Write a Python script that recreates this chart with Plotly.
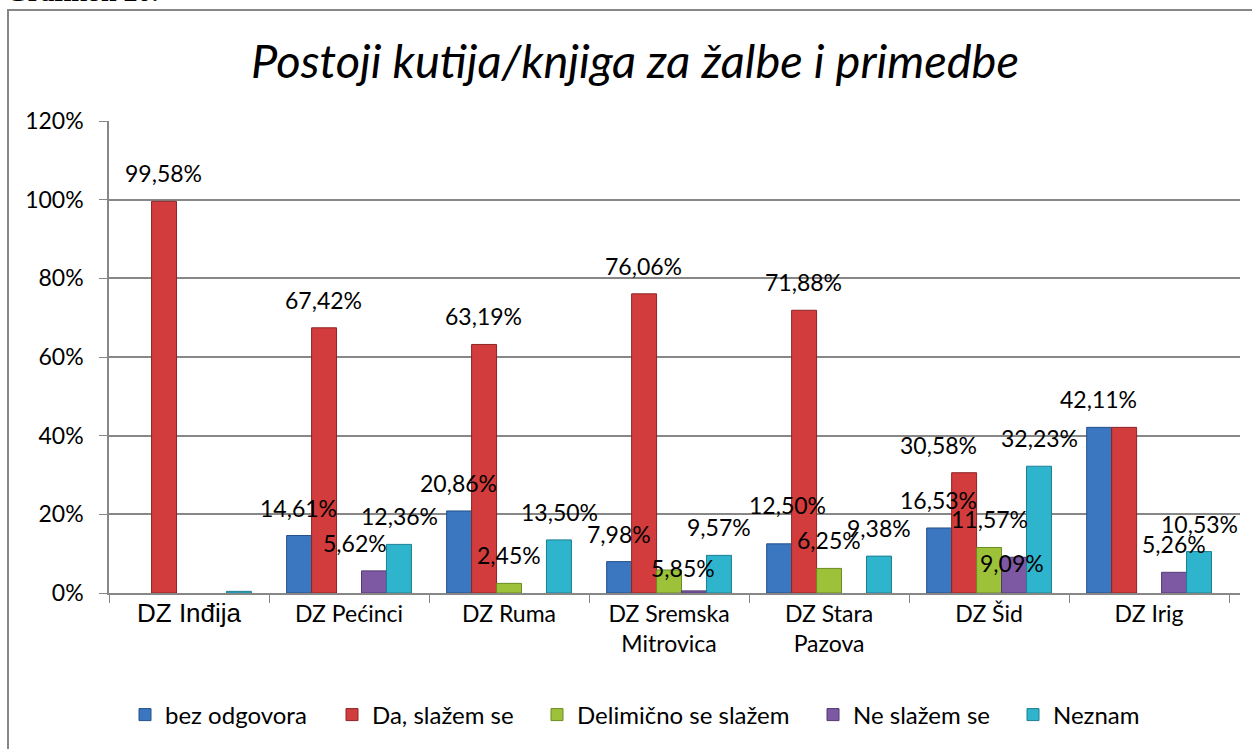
import plotly.graph_objects as go

# ---- data ----
categories = ["DZ Inđija", "DZ Pećinci", "DZ Ruma", "DZ Sremska Mitrovica",
              "DZ Stara Pazova", "DZ Šid", "DZ Irig"]
tick_labels = ["<span style='font-family:Arial; font-size:26px'>DZ Inđija</span>",
               "DZ Pećinci", "DZ Ruma", "DZ Sremska<br>Mitrovica",
               "DZ Stara<br>Pazova", "DZ Šid", "DZ Irig"]
bez_odgovora = [0, 14.61, 20.86, 7.98, 12.50, 16.53, 42.11]
da_slazem = [99.58, 67.42, 63.19, 76.06, 71.88, 30.58, 42.11]
delimicno = [0, 0, 2.45, 5.85, 6.25, 11.57, 0]
ne_slazem = [0, 5.62, 0, 0.54, 0, 9.09, 5.26]
neznam = [0.42, 12.36, 13.50, 9.57, 9.38, 32.23, 10.53]
series_names = ["bez odgovora", "Da, slažem se", "Delimično se slažem",
                "Ne slažem se", "Neznam"]
y_ticks = [0, 20, 40, 60, 80, 100, 120]
y_tick_labels = ["0%", "20%", "40%", "60%", "80%", "100%", "120%"]

series_values = [bez_odgovora, da_slazem, delimicno, ne_slazem, neznam]

# ---- style ----
colors = ["#3b76c0", "#d23c3c", "#9dc23a", "#7d59a3", "#2fb4cd"]
edge = ["#24508a", "#8e2424", "#6a8a22", "#523a72", "#1d7f92"]
FONT = "Lato"
# labels not shown in the original (category idx, series idx)
hidden = {(0, 4), (3, 3), (6, 1)}
# small label nudges (dx px, dy px)
nudges = {(3, 2): (14, -26), (4, 0): (9, 11), (5, 1): (-25, 0),
          (5, 3): (-2, -34), (1, 3): (-19, 0)}
# legend marker centres (px)
legend_px = [146, 353, 558, 834, 1034]

W, H = 1252, 749
ML, MR, MT, MB = 109, 12, 121, 156
BARGAP = 0.22
plot_w = W - ML - MR
plot_h = H - MT - MB
bar_px = plot_w / len(categories) * (1 - BARGAP) / len(series_names)

fig = go.Figure()
legend_ids = ["legend"] + [f"legend{i}" for i in range(2, len(series_names) + 1)]
for s, (name, vals) in enumerate(zip(series_names, series_values)):
    fig.add_trace(go.Bar(
        name=name, x=categories, y=[v if v > 0 else None for v in vals],
        marker=dict(color=colors[s], line=dict(color=edge[s], width=1)),
        hoverinfo="skip", legend=legend_ids[s],
    ))

annotations = []
for s, vals in enumerate(series_values):
    for c, v in enumerate(vals):
        if v <= 0 or (c, s) in hidden:
            continue
        dx, dy = nudges.get((c, s), (0, 0))
        annotations.append(dict(
            x=categories[c], y=v, xref="x", yref="y",
            text=f"{v:.2f}".replace(".", ",") + "%",
            showarrow=False, xanchor="center", yanchor="middle",
            xshift=(s - 2) * bar_px + dx, yshift=28 + dy,
            font=dict(family=FONT, size=23, color="black"),
        ))

# "Grafikon 20." caption cut at top
annotations.append(dict(
    xref="paper", yref="paper", x=(4 - ML) / plot_w,
    y=(H - MB + 9) / plot_h, xanchor="left", yanchor="middle",
    text="<b>Grafikon 20.</b>", showarrow=False,
    font=dict(family="Liberation Serif", size=28, color="black"),
))

fig.add_shape(type="rect", xref="paper", yref="paper",
              x0=(8 - ML) / plot_w, x1=(W + 20 - ML) / plot_w,
              y0=(H - MB - (H + 20)) / plot_h, y1=(H - MB - 10) / plot_h,
              line=dict(color="#878787", width=2), fillcolor="rgba(0,0,0,0)",
              layer="below")

LEG_OFF = 21
legend_layout = {}
for s, lid in enumerate(legend_ids):
    legend_layout[lid] = dict(
        orientation="h", x=(legend_px[s] - LEG_OFF - ML) / plot_w, xanchor="left",
        y=(H - MB - 715) / plot_h, yanchor="middle",
        font=dict(family=FONT, size=24, color="black"),
        itemwidth=30, bgcolor="rgba(0,0,0,0)",
    )

fig.update_layout(
    width=W, height=H,
    margin=dict(l=ML, r=MR, t=MT, b=MB, autoexpand=False),
    paper_bgcolor="white", plot_bgcolor="white",
    barmode="group", bargap=BARGAP, bargroupgap=0,
    title=dict(text="<i>Postoji kutija/knjiga za žalbe i primedbe</i>",
               x=635 / W, xanchor="center", xref="container",
               y=1 - 62 / H, yanchor="middle", yref="container",
               font=dict(family=FONT, size=47, color="black")),
    font=dict(family=FONT, size=23, color="black"),
    showlegend=True,
    annotations=annotations,
    **legend_layout,
)
fig.update_xaxes(
    tickmode="array", tickvals=categories, ticktext=tick_labels,
    tickson="boundaries", ticks="outside", ticklen=8, tickcolor="#878787",
    showline=True, linecolor="#878787", linewidth=1.5,
    tickfont=dict(family=FONT, size=23, color="black"),
    showgrid=False, fixedrange=True,
)
fig.update_yaxes(
    range=[0, 120], tickmode="array", tickvals=y_ticks, ticktext=y_tick_labels,
    ticks="outside", ticklen=8, tickcolor="#878787",
    showline=True, linecolor="#878787", linewidth=1.5,
    showgrid=True, gridcolor="#878787", gridwidth=1.5,
    tickfont=dict(family=FONT, size=23, color="black"),
    ticklabelstandoff=11, zeroline=False, fixedrange=True,
)

fig.write_html("out.html", config={"displayModeBar": False},
               post_script="document.body.style.margin='0';")
